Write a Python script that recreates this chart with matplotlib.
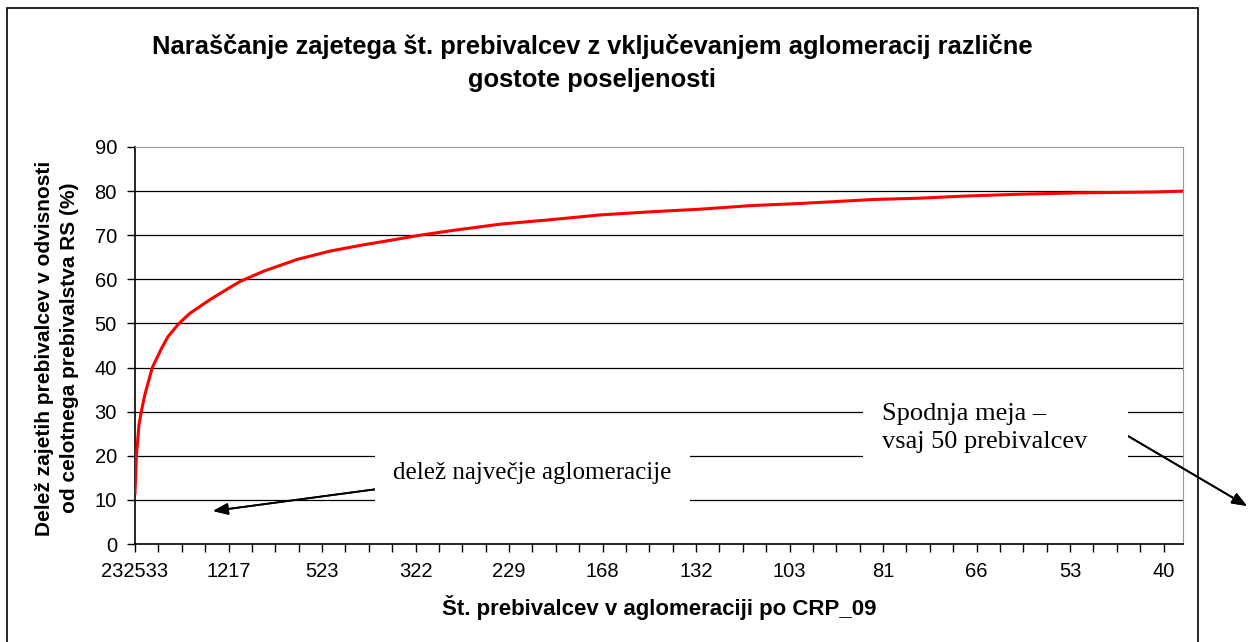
import numpy as np
import matplotlib.pyplot as plt
from matplotlib.patches import Rectangle

# zaporedna stevilka aglomeracije (od najvecje proti najmanjsi)
rang = [0, 6, 17, 27, 41, 74, 113, 141, 188, 235, 321, 398, 449, 548, 693, 834, 975, 1121,
        1219, 1348, 1561, 1775, 1989, 2203, 2417, 2631, 2845, 2986,
        3157, 3358, 3559, 3786, 4034, 4364, 4483]
# kumulativni delez zajetih prebivalcev (%)
delez = [11.6, 20.0, 27.0, 30.0, 33.6, 40.0, 44.3, 47.0, 50.0, 52.3, 55.4, 57.9, 59.5, 61.8,
         64.5, 66.4, 67.8, 69.1, 70.0, 71.0, 72.5, 73.5, 74.6, 75.3, 75.9, 76.7, 77.2, 77.6,
         78.1, 78.4, 78.9, 79.3, 79.6, 79.8, 80.0]
# oznake na osi x: st. prebivalcev aglomeracije na vsakem 400. mestu
oznake_pos = [0, 400, 800, 1200, 1600, 2000, 2400, 2800, 3200, 3600, 4000, 4400]
oznake = ['232533', '1217', '523', '322', '229', '168', '132', '103', '81', '66', '53', '40']

W, H = 1248, 642
fig = plt.figure(figsize=(W / 100, H / 100), dpi=100)
plt.rcParams['font.family'] = ['Liberation Sans', 'DejaVu Sans']

ax = fig.add_axes([135 / W, 1 - 544 / H, (1183 - 135) / W, (544 - 147) / H])
for y in range(10, 90, 10):
    ax.axhline(y, color='black', lw=0.9, zorder=1)
ax.plot(rang, delez, color='#ff0000', lw=2.2, zorder=3)

ax.set_xlim(0, 4483)
ax.set_ylim(0, 90)
ax.set_yticks(range(0, 91, 10))
ax.set_xticks(oznake_pos)
ax.set_xticklabels(oznake)
ax.set_xticks(np.arange(0, 4483, 100), minor=True)
ax.tick_params(axis='both', which='both', direction='out', length=6, width=1, labelsize=14.5, color='black')
ax.tick_params(axis='x', pad=7)
ax.tick_params(axis='y', pad=7)
ax.spines['top'].set_color('#999999')
ax.spines['right'].set_color('#999999')
ax.spines['left'].set_linewidth(1.2)
ax.spines['bottom'].set_linewidth(1.2)

ax.set_xlabel('Št. prebivalcev v aglomeraciji po CRP_09', fontsize=16, fontweight='bold', va='center')
ax.xaxis.set_label_coords(0.5, -(608 - 544) / 397)
ax.set_ylabel('Delež zajetih prebivalcev v odvisnosti\nod celotnega prebivalstva RS (%)',
              fontsize=15, fontweight='bold', linespacing=1.35, va='center', ha='center')
ax.yaxis.set_label_coords(-(135 - 57) / 1048, (544 - 348) / 397)

fig.text(592 / W, 1 - 63 / H,
         'Naraščanje zajetega št. prebivalcev z vključevanjem aglomeracij različne\ngostote poseljenosti',
         ha='center', va='center', fontsize=18.4, fontweight='bold', linespacing=1.48)

# okvir grafikona
fig.patches.append(Rectangle((7 / W, -0.1), (1198 - 7) / W, 1.1 - 8 / H, transform=fig.transFigure,
                             fill=False, edgecolor='black', lw=1.2, figure=fig))

# opombe
def px(x, y):
    return (x / W, 1 - y / H)

for (x0, y0, x1, y1) in [(375, 450, 690, 505), (863, 398, 1128, 466)]:
    fig.patches.append(Rectangle(px(x0, y1), (x1 - x0) / W, (y1 - y0) / H, transform=fig.transFigure,
                                 facecolor='white', edgecolor='none', zorder=5, figure=fig))

fig.text(*px(393, 473), 'delež največje aglomeracije', family=['Liberation Serif'], fontsize=18,
         ha='left', va='center', zorder=6)
fig.text(*px(882, 428), 'Spodnja meja –\nvsaj 50 prebivalcev', family=['Liberation Serif'], fontsize=19,
         ha='left', va='center', zorder=6, linespacing=1.3)

arr = dict(arrowstyle='-|>,head_length=0.9,head_width=0.35', color='black', lw=1.3, shrinkA=0, shrinkB=0)
fig.add_artist(plt.annotate('', xy=px(213, 511), xytext=px(385, 488), xycoords='figure fraction',
                            textcoords='figure fraction', arrowprops=arr))
fig.add_artist(plt.annotate('', xy=px(1247, 506), xytext=px(1128, 436), xycoords='figure fraction',
                            textcoords='figure fraction', arrowprops=arr))

fig.savefig('out.png', dpi=100)
